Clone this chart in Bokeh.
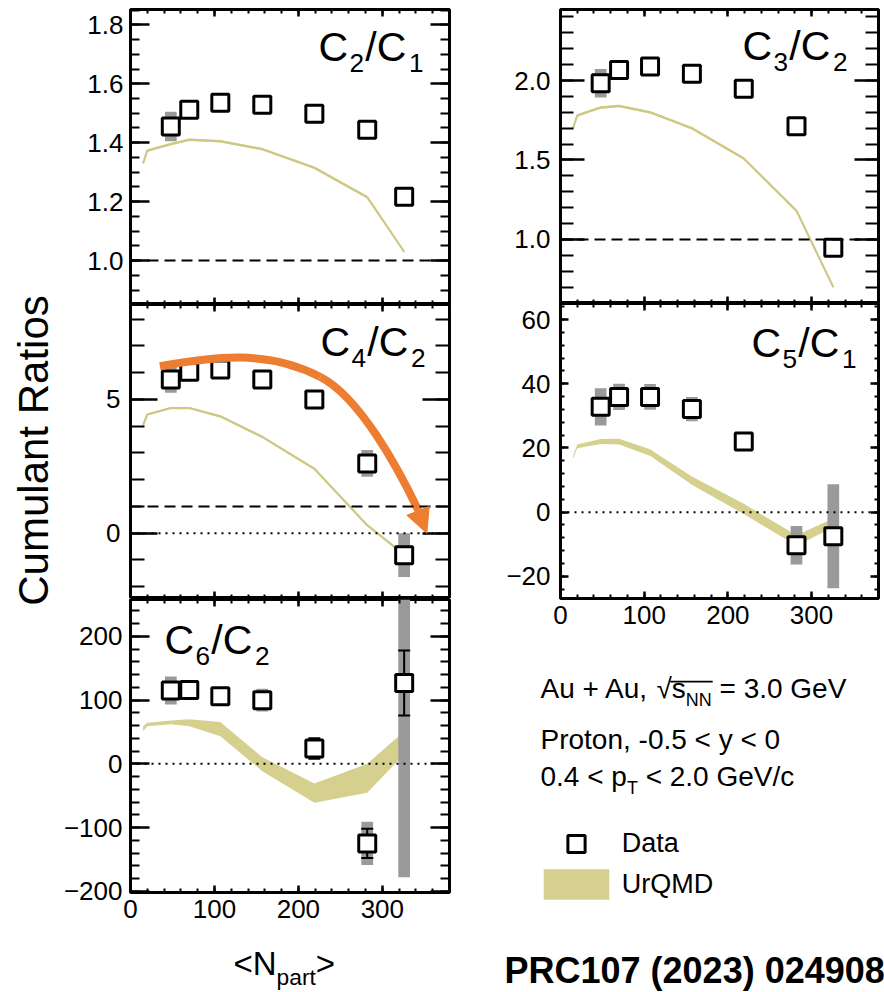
import math

from bokeh.embed import file_html
from bokeh.layouts import column, row
from bokeh.models import (Arrow, BoxAnnotation, CustomJSTickFormatter, Label, Legend,
                          LegendItem, LinearAxis, NormalHead, Range1d,
                          SingleIntervalTicker, Span)
from bokeh.plotting import figure
from bokeh.resources import INLINE

FONT = "Liberation Sans"
ORANGE = "#ED7D31"
BAND = "#d6d08f"
BAND_LINE = "#cfc885"
SYS = "#9a9a9a"
# Label anchors sit below the glyph baseline by roughly this fraction of the font size
BASELINE_LIFT = 0.38

# <N_part> of the measured centrality classes and of the UrQMD points
npart = [48, 70, 107, 157, 219, 282, 326]
npart_urqmd = [15, 20, 48, 70, 107, 157, 219, 282, 326]

# C2/C1
c21 = [1.455, 1.512, 1.536, 1.529, 1.498, 1.444, 1.217]
c21_sys = [0.05, 0.008, 0.008, 0.008, 0.008, 0.008, 0.01]
c21_urqmd_lo = [1.326, 1.369, 1.391, 1.406, 1.401, 1.374, 1.311, 1.211, 1.026]
c21_urqmd_hi = [1.334, 1.377, 1.399, 1.414, 1.409, 1.382, 1.319, 1.219, 1.034]

# C3/C2
c32 = [1.983, 2.067, 2.088, 2.042, 1.948, 1.713, 0.948]
c32_sys = [0.09, 0.02, 0.02, 0.02, 0.02, 0.02, 0.03]
c32_urqmd_lo = [1.692, 1.772, 1.822, 1.832, 1.792, 1.692, 1.502, 1.172, 0.692]
c32_urqmd_hi = [1.708, 1.788, 1.838, 1.848, 1.808, 1.708, 1.518, 1.188, 0.708]

# C4/C2
c42 = [5.75, 6.04, 6.12, 5.75, 5.00, 2.61, -0.82]
c42_sys = [0.5, 0.15, 0.15, 0.15, 0.2, 0.5, 0.82]
c42_urqmd_lo = [3.99, 4.40, 4.64, 4.64, 4.33, 3.56, 2.37, 0.26, -0.84]
c42_urqmd_hi = [4.07, 4.48, 4.72, 4.72, 4.41, 3.64, 2.45, 0.34, -0.76]

# C5/C1
c51 = [32.8, 35.9, 35.9, 32.1, 22.0, -10.3, -7.5]
c51_sys = [5.8, 4.1, 4.0, 3.8, 1.0, 6.0, 16.2]
c51_urqmd_lo = [16.7, 19.9, 21.2, 21.1, 17.6, 8.5, -0.6, -10.4, -4.8]
c51_urqmd_hi = [17.5, 21.1, 22.8, 22.9, 19.6, 11.1, 2.6, -7.2, -2.0]

# C6/C2
c62 = [115, 116, 106, 100, 24, -125, 127]
c62_stat = [4, 4, 4, 4, 16, 23, 51]
c62_sys = [22, 5, 5, 18, 5, 34, 305]
c62_urqmd_lo = [51, 59, 62, 59, 43.5, -11.5, -61, -45.5, 15]
c62_urqmd_hi = [59, 64.5, 68, 70, 65.5, 10.5, -31, 0, 51]

# hand-drawn trend arrow on the C4/C2 panel: two cubic pieces and a head
trend_x0 = [35.0, 226.2]
trend_y0 = [6.24, 5.84]
trend_cx0 = [100.5, 273.8]
trend_cy0 = [6.61, 5.07]
trend_cx1 = [162.7, 319.9]
trend_cy1 = [6.87, 2.36]
trend_x1 = [226.2, 342.9]
trend_y1 = [5.84, 0.85]
trend_tip = (353.0, 0.0)

# Helvetica/Arial advance widths (em) for composing sub-scripted labels
ADV = {" ": .278, "+": .584, ",": .278, "-": .333, ".": .278, "/": .278,
       "<": .584, "=": .584, ">": .584, "A": .667, "C": .722, "G": .778,
       "N": .722, "P": .667, "T": .611, "V": .667, "a": .556, "c": .5,
       "e": .556, "n": .556, "o": .556, "p": .556, "r": .333, "s": .5,
       "t": .278, "u": .556, "y": .5, "\u221a": .549}


def text_width(s, size, track):
    return sum(ADV.get(ch, .556) for ch in s) * size + track * len(s)


def rich_label(p, x, y, parts, size, track=0.0, sub_scale=0.64, sub_drop=0.26):
    """Place a run of normal/subscript pieces on baseline y (screen units, frame-relative)."""
    cur = x
    spans = []
    for txt, sub in parts:
        fs = size * sub_scale if sub else size
        dy = -size * sub_drop if sub else 0.0
        lead = len(txt) - len(txt.lstrip(" "))
        body = txt.strip(" ")
        start = cur + text_width(" " * lead, fs, track)
        if body:
            p.add_layout(Label(x=start, y=y + dy + BASELINE_LIFT * fs,
                               x_units="screen", y_units="screen",
                               text=body, text_font=FONT, text_font_size=f"{fs:.1f}px",
                               text_color="black", text_baseline="alphabetic",
                               text_align="left"))
        spans.append((start, start + text_width(body, fs, track)))
        cur += text_width(txt, fs, track)
    return spans


def tick_formatter(decimals):
    return CustomJSTickFormatter(code=f"""
        const v = Math.abs(tick) < 1e-9 ? 0 : tick;
        const s = Math.abs(v).toFixed({decimals});
        return v < 0 ? '\\u2212' + s : s;
    """)


def make_axis(interval, minor, tick_in, minor_in, labels=False, decimals=0, standoff=8):
    ax = LinearAxis(ticker=SingleIntervalTicker(interval=interval, num_minor_ticks=minor))
    ax.axis_line_color = None
    ax.major_tick_in = tick_in
    ax.major_tick_out = 0
    ax.minor_tick_in = minor_in
    ax.minor_tick_out = 0
    ax.major_tick_line_color = "black"
    ax.major_tick_line_width = 2.5
    ax.minor_tick_line_color = "black"
    ax.minor_tick_line_width = 2
    if labels:
        ax.formatter = tick_formatter(decimals)
        ax.major_label_text_font = FONT
        ax.major_label_text_font_size = "26px"
        ax.major_label_text_color = "black"
        ax.major_label_standoff = standoff
    else:
        # mirrored tick marks only
        ax.formatter = CustomJSTickFormatter(code="return ''")
        ax.major_label_text_color = None
        ax.major_label_text_font_size = "1px"
        ax.major_label_standoff = 0
    return ax


def make_panel(y_lo, y_hi, frame_w, frame_h, borders, y_interval, y_minor,
               y_tick, y_minor_tick, decimals, standoff, x_labels):
    left, right, top, bottom = borders
    p = figure(frame_width=frame_w, frame_height=frame_h,
               x_range=Range1d(0, 380), y_range=Range1d(y_lo, y_hi),
               x_axis_location=None, y_axis_location=None,
               toolbar_location=None, output_backend="svg",
               min_border_left=left, min_border_right=right,
               min_border_top=top, min_border_bottom=bottom,
               background_fill_color="white", border_fill_color="white")
    p.xgrid.visible = False
    p.ygrid.visible = False
    p.outline_line_color = "black"
    p.outline_line_width = 3
    p.add_layout(make_axis(y_interval, y_minor, y_tick, y_minor_tick, True, decimals, standoff), "left")
    p.add_layout(make_axis(y_interval, y_minor, y_tick, y_minor_tick), "right")
    p.add_layout(make_axis(100, 5, 7, 4, x_labels, 0, 7), "below")
    p.add_layout(make_axis(100, 5, 7, 4), "above")
    return p


def text_panel(w, h, left=0, right=0):
    p = figure(title=None, frame_width=w, frame_height=h,
               x_range=Range1d(0, 1), y_range=Range1d(0, 1),
               x_axis_location=None, y_axis_location=None,
               toolbar_location=None, output_backend="svg",
               min_border_left=left, min_border_right=right, min_border_top=0, min_border_bottom=0,
               background_fill_color="white", border_fill_color="white")
    p.xgrid.visible = False
    p.ygrid.visible = False
    p.outline_line_color = None
    return p


def ref_line(p, level, dashed):
    p.add_layout(Span(location=level, dimension="width", line_color="black",
                      line_width=2, line_dash="11 6" if dashed else "2 5"))


def draw_series(p, vals, sys, lo, hi, stat=None, thin=True):
    band = p.varea(x=npart_urqmd, y1=lo, y2=hi, fill_color=BAND)
    if thin:
        mid = [(a + b) / 2 for a, b in zip(lo, hi)]
        p.line(npart_urqmd, mid, line_color=BAND_LINE, line_width=2.2)
    p.vbar(x=npart, bottom=[v - e for v, e in zip(vals, sys)],
           top=[v + e for v, e in zip(vals, sys)], width=14,
           fill_color=SYS, line_color=None)
    if stat is not None:
        ylo = [v - e for v, e in zip(vals, stat)]
        yhi = [v + e for v, e in zip(vals, stat)]
        p.segment(x0=npart, y0=ylo, x1=npart, y1=yhi, line_color="black", line_width=2)
        p.scatter(npart, ylo, marker="dash", size=12, line_color="black", line_width=2)
        p.scatter(npart, yhi, marker="dash", size=12, line_color="black", line_width=2)
    pts = p.scatter(npart, vals, marker="square", size=17, fill_color="white",
                    line_color="black", line_width=3)
    return pts, band


def ratio_title(p, x, y, num, den):
    rich_label(p, x, y, [("C", False), (num, True), ("/C", False), (den, True)], 41, track=1.3)


# ---- y-axis title strip ----------------------------------------------------
ytitle = text_panel(60, 992)
ytitle.add_layout(Label(x=33, y=542, x_units="screen", y_units="screen",
                        text="Cumulant Ratios", angle=math.pi / 2, text_align="center",
                        text_baseline="middle", text_font=FONT, text_font_size="42px",
                        text_color="black"))

# ---- left column -------------------------------------------------------
tl = make_panel(0.851, 1.852, 319, 295, (70, 3, 9, 0), 0.2, 4, 19, 9, 1, 7, False)
ref_line(tl, 1.0, True)
draw_series(tl, c21, c21_sys, c21_urqmd_lo, c21_urqmd_hi)
ratio_title(tl, 188, 242, "2", "1")

ml = make_panel(-2.44, 8.55, 319, 294, (70, 3, 0, 0), 5, 5, 27, 14, 0, 10, False)
ref_line(ml, 1.0, True)
ref_line(ml, 0.0, False)
draw_series(ml, c42, c42_sys, c42_urqmd_lo, c42_urqmd_hi)
ml.bezier(x0=trend_x0, y0=trend_y0, x1=trend_x1, y1=trend_y1,
          cx0=trend_cx0, cy0=trend_cy0, cx1=trend_cx1, cy1=trend_cy1,
          line_color=ORANGE, line_width=8)
ml.add_layout(Arrow(end=NormalHead(size=24, fill_color=ORANGE, line_color=ORANGE),
                    x_start=336.0, y_start=1.35,
                    x_end=trend_tip[0], y_end=trend_tip[1],
                    line_color=ORANGE, line_alpha=0))
ratio_title(ml, 190, 241, "4", "2")

bl = make_panel(-202, 258, 319, 293, (70, 3, 1, 46), 100, 5, 19, 9, 0, 8, True)
ref_line(bl, 0.0, False)
draw_series(bl, c62, c62_sys, c62_urqmd_lo, c62_urqmd_hi, stat=c62_stat, thin=False)
ratio_title(bl, 34, 237, "6", "2")

# x-axis title, on a strip whose frame lines up with the panels above
xtitle = text_panel(319, 54, left=70, right=3)
rich_label(xtitle, 103, 16, [("<N", False), ("part", True), (">", False)], 33,
           sub_scale=0.69, sub_drop=0.28)

# ---- right column ------------------------------------------------------
tr = make_panel(0.597, 2.447, 318, 294, (108, 6, 9, 0), 0.5, 5, 24, 13, 1, 10, False)
ref_line(tr, 1.0, True)
draw_series(tr, c32, c32_sys, c32_urqmd_lo, c32_urqmd_hi)
ratio_title(tr, 182, 242, "3", "2")

mr = make_panel(-26.9, 65.0, 318, 295, (108, 6, 0, 46), 20, 5, 8, 4, 0, 10, True)
ref_line(mr, 0.0, False)
draw_series(mr, c51, c51_sys, c51_urqmd_lo, c51_urqmd_hi, thin=False)
ratio_title(mr, 191, 240, "5", "1")

# ---- legend / collision-system block -----------------------------------
info = text_panel(432, 348)
line1 = rich_label(info, 88, 293, [("Au + Au, ", False), ("\u221a", False), ("s", False),
                                    ("NN", True), (" = 3.0 GeV", False)], 28)
info.add_layout(BoxAnnotation(left=line1[1][1] - 1.5, right=line1[3][1] + 1,
                              bottom=293 + 17.0, top=293 + 18.8,
                              left_units="screen", right_units="screen",
                              bottom_units="screen", top_units="screen",
                              fill_color="black", fill_alpha=1, line_color=None))
rich_label(info, 88, 242, [("Proton, -0.5 < y < 0", False)], 28)
rich_label(info, 88, 205, [("0.4 < p", False), ("T", True), (" < 2.0 GeV/c", False)], 28)

# legend keys share the styling of the measured points and the UrQMD band
key_pts = info.scatter(npart, c51, marker="square", size=17, fill_color="white",
                       line_color="black", line_width=3, visible=False)
key_band = info.varea(x=npart_urqmd, y1=c51_urqmd_lo, y2=c51_urqmd_hi,
                      fill_color=BAND, visible=False)
for label, rend, gh, loc_y in (("Data", key_pts, 43, 127.5), ("UrQMD", key_band, 38, 88.8)):
    lg = Legend(items=[LegendItem(label=label, renderers=[rend])], location=(82.8, loc_y),
                glyph_width=82, glyph_height=gh, label_standoff=5, padding=0, margin=0,
                spacing=0, border_line_color=None, background_fill_alpha=0,
                label_text_font=FONT, label_text_font_size="27px", label_text_color="black")
    info.add_layout(lg)

info.add_layout(Label(x=52, y=8 + BASELINE_LIFT * 36, x_units="screen", y_units="screen",
                      text="PRC107 (2023) 024908", text_font=FONT, text_font_size="36px",
                      text_font_style="bold", text_color="black", text_baseline="alphabetic"))

layout = row(ytitle, column(tl, ml, bl, xtitle), column(tr, mr, row(info)))

with open("out.html", "w") as fh:
    fh.write(file_html(layout, INLINE))
